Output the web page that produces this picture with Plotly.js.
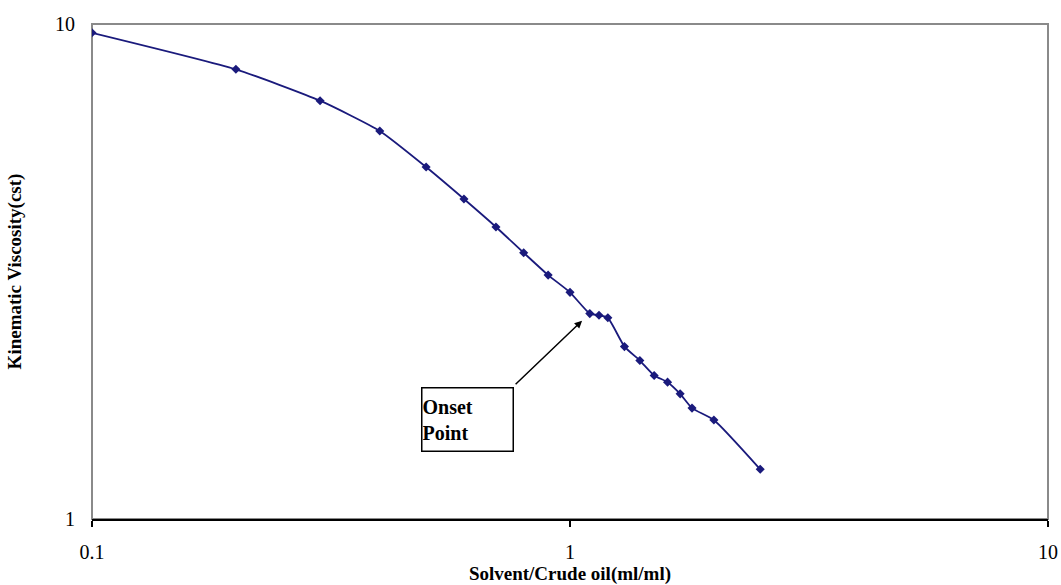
<!DOCTYPE html>
<html>
<head>
<meta charset="utf-8">
<script src="https://cdn.plot.ly/plotly-3.0.1.min.js"></script>
<style>html,body{margin:0;padding:0;background:#fff;}#chart{width:1061px;height:585px;}</style>
</head>
<body>
<div id="chart"></div>
<script>
// Solvent/Crude oil ratio (ml/ml)
const solventRatio = [0.1, 0.2, 0.3, 0.4, 0.5, 0.6, 0.7, 0.8, 0.9, 1.0, 1.1, 1.15, 1.2, 1.3, 1.4, 1.5, 1.6, 1.7, 1.8, 2.0, 2.5];
// Kinematic viscosity (cSt)
const viscosity = [9.6, 8.1, 7.0, 6.08, 5.14, 4.43, 3.89, 3.45, 3.11, 2.87, 2.60, 2.58, 2.55, 2.23, 2.09, 1.95, 1.89, 1.79, 1.675, 1.585, 1.26];
const xTickVals = [0.1, 1, 10];
const xTickText = ['0.1', '1', '10'];
const yTickVals = [1, 10];
const yTickText = ['1', '10'];
const onsetLabel = 'Onset<br>Point';
const onsetPoint = {x: 1.06, y: 2.515};

const lineColor = '#1a1a7c';
const serif = '"Liberation Serif", "Times New Roman", serif';

const trace = {
  x: solventRatio,
  y: viscosity,
  type: 'scatter',
  mode: 'lines+markers',
  line: {color: lineColor, width: 1.8, shape: 'spline', smoothing: 0.5},
  marker: {symbol: 'diamond', size: 7, color: lineColor},
  hoverinfo: 'x+y'
};

const layout = {
  width: 1061,
  height: 585,
  margin: {l: 92, r: 13, t: 24, b: 66},
  paper_bgcolor: '#ffffff',
  plot_bgcolor: '#ffffff',
  showlegend: false,
  font: {family: serif, size: 20, color: '#000'},
  xaxis: {
    type: 'log',
    range: [-1, 1],
    tickvals: xTickVals,
    ticktext: xTickText,
    ticks: 'outside',
    ticklen: 6,
    tickwidth: 2,
    tickcolor: '#000',
    ticklabelstandoff: 8,
    showgrid: false,
    zeroline: false,
    showline: true,
    linecolor: '#000',
    linewidth: 2,
    tickfont: {family: serif, size: 20, color: '#000'},
    title: {text: '<b>Solvent/Crude oil(ml/ml)</b>', font: {family: serif, size: 19, color: '#000'}, standoff: 6},
    automargin: false
  },
  yaxis: {
    type: 'log',
    range: [0, 1],
    tickvals: yTickVals,
    ticktext: yTickText,
    ticks: '',
    ticklabelstandoff: 16,
    showgrid: false,
    zeroline: false,
    showline: false,
    tickfont: {family: serif, size: 20, color: '#000'},
    title: {text: '<b>Kinematic Viscosity(cst)</b>', font: {family: serif, size: 19, color: '#000'}, standoff: 28},
    automargin: false
  },
  shapes: [
    {type: 'rect', xref: 'paper', yref: 'paper', x0: 0, x1: 1, y0: 0, y1: 1,
     line: {color: '#8a8a8a', width: 2}, layer: 'below'}
  ],
  annotations: [
    {
      x: Math.log10(onsetPoint.x), y: Math.log10(onsetPoint.y),
      xref: 'x', yref: 'y',
      text: '', showarrow: true,
      ax: -68, ay: 65,
      arrowhead: 2, arrowsize: 1, arrowwidth: 1.5, arrowcolor: '#000'
    },
    {
      x: -0.2149, y: 0.202, xref: 'x', yref: 'y',
      text: '<b>' + onsetLabel + '</b>',
      showarrow: false,
      width: 90, height: 62,
      align: 'left', valign: 'middle',
      bordercolor: '#000', borderwidth: 1.5, borderpad: 0,
      bgcolor: '#ffffff',
      font: {family: serif, size: 20, color: '#000'}
    }
  ]
};

Plotly.newPlot('chart', [trace], layout, {displayModeBar: false, staticPlot: true});
</script>
</body>
</html>
